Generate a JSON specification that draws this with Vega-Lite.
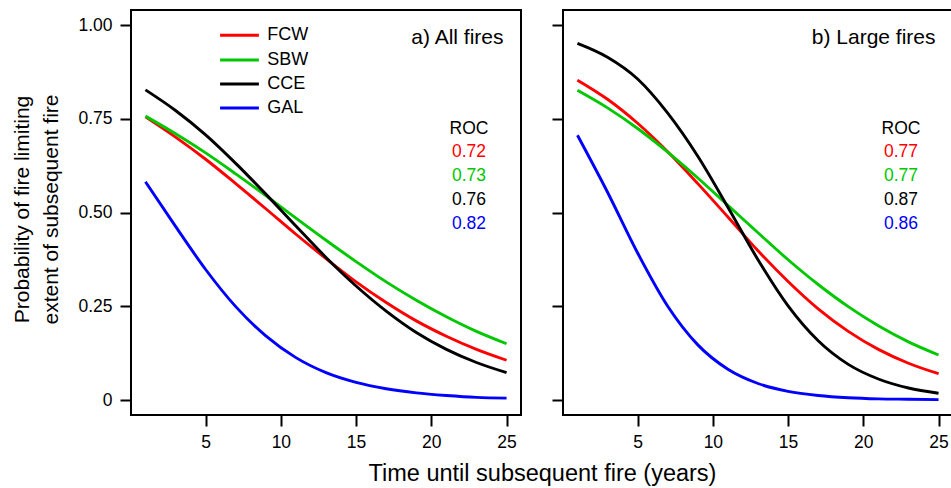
{
  "$schema": "https://vega.github.io/schema/vega-lite/v6.json",
  "padding": {"left": 10, "top": 9, "right": 0, "bottom": 0},
  "background": "white",
  "config": {
    "font": "Liberation Sans",
    "view": {"stroke": "black", "strokeWidth": 2},
    "axis": {
      "domain": false, "grid": false,
      "tickColor": "black", "tickWidth": 2, "tickSize": 11,
      "labelColor": "black", "labelFontSize": 17.5, "labelFont": "Liberation Sans",
      "titleFont": "Liberation Sans", "titleFontWeight": "normal", "titleColor": "black"
    },
    "text": {"font": "Liberation Sans"}
  },
  "datasets": {
    "curves": [
      {"p":"a","s":"FCW","x":1,"y":0.755},{"p":"a","s":"FCW","x":3,"y":0.701},{"p":"a","s":"FCW","x":5,"y":0.642},{"p":"a","s":"FCW","x":7,"y":0.577},{"p":"a","s":"FCW","x":9,"y":0.510},{"p":"a","s":"FCW","x":11,"y":0.442},{"p":"a","s":"FCW","x":13,"y":0.377},{"p":"a","s":"FCW","x":15,"y":0.315},{"p":"a","s":"FCW","x":17,"y":0.260},{"p":"a","s":"FCW","x":19,"y":0.211},{"p":"a","s":"FCW","x":21,"y":0.170},{"p":"a","s":"FCW","x":23,"y":0.135},{"p":"a","s":"FCW","x":25,"y":0.106},
      {"p":"a","s":"SBW","x":1,"y":0.757},{"p":"a","s":"SBW","x":3,"y":0.710},{"p":"a","s":"SBW","x":5,"y":0.659},{"p":"a","s":"SBW","x":7,"y":0.603},{"p":"a","s":"SBW","x":9,"y":0.545},{"p":"a","s":"SBW","x":11,"y":0.485},{"p":"a","s":"SBW","x":13,"y":0.426},{"p":"a","s":"SBW","x":15,"y":0.369},{"p":"a","s":"SBW","x":17,"y":0.315},{"p":"a","s":"SBW","x":19,"y":0.266},{"p":"a","s":"SBW","x":21,"y":0.222},{"p":"a","s":"SBW","x":23,"y":0.183},{"p":"a","s":"SBW","x":25,"y":0.150},
      {"p":"a","s":"CCE","x":1,"y":0.827},{"p":"a","s":"CCE","x":3,"y":0.772},{"p":"a","s":"CCE","x":5,"y":0.707},{"p":"a","s":"CCE","x":7,"y":0.631},{"p":"a","s":"CCE","x":9,"y":0.549},{"p":"a","s":"CCE","x":11,"y":0.464},{"p":"a","s":"CCE","x":13,"y":0.380},{"p":"a","s":"CCE","x":15,"y":0.304},{"p":"a","s":"CCE","x":17,"y":0.237},{"p":"a","s":"CCE","x":19,"y":0.180},{"p":"a","s":"CCE","x":21,"y":0.135},{"p":"a","s":"CCE","x":23,"y":0.100},{"p":"a","s":"CCE","x":25,"y":0.073},
      {"p":"a","s":"GAL","x":1,"y":0.582},{"p":"a","s":"GAL","x":3,"y":0.463},{"p":"a","s":"GAL","x":5,"y":0.348},{"p":"a","s":"GAL","x":7,"y":0.249},{"p":"a","s":"GAL","x":9,"y":0.171},{"p":"a","s":"GAL","x":11,"y":0.113},{"p":"a","s":"GAL","x":13,"y":0.073},{"p":"a","s":"GAL","x":15,"y":0.047},{"p":"a","s":"GAL","x":17,"y":0.030},{"p":"a","s":"GAL","x":19,"y":0.019},{"p":"a","s":"GAL","x":21,"y":0.012},{"p":"a","s":"GAL","x":23,"y":0.007},{"p":"a","s":"GAL","x":25,"y":0.005},
      {"p":"b","s":"FCW","x":1,"y":0.853},{"p":"b","s":"FCW","x":3,"y":0.802},{"p":"b","s":"FCW","x":5,"y":0.738},{"p":"b","s":"FCW","x":7,"y":0.662},{"p":"b","s":"FCW","x":9,"y":0.577},{"p":"b","s":"FCW","x":11,"y":0.488},{"p":"b","s":"FCW","x":13,"y":0.398},{"p":"b","s":"FCW","x":15,"y":0.316},{"p":"b","s":"FCW","x":17,"y":0.243},{"p":"b","s":"FCW","x":19,"y":0.183},{"p":"b","s":"FCW","x":21,"y":0.135},{"p":"b","s":"FCW","x":23,"y":0.098},{"p":"b","s":"FCW","x":25,"y":0.070},
      {"p":"b","s":"SBW","x":1,"y":0.826},{"p":"b","s":"SBW","x":3,"y":0.779},{"p":"b","s":"SBW","x":5,"y":0.724},{"p":"b","s":"SBW","x":7,"y":0.661},{"p":"b","s":"SBW","x":9,"y":0.592},{"p":"b","s":"SBW","x":11,"y":0.519},{"p":"b","s":"SBW","x":13,"y":0.446},{"p":"b","s":"SBW","x":15,"y":0.374},{"p":"b","s":"SBW","x":17,"y":0.308},{"p":"b","s":"SBW","x":19,"y":0.249},{"p":"b","s":"SBW","x":21,"y":0.198},{"p":"b","s":"SBW","x":23,"y":0.155},{"p":"b","s":"SBW","x":25,"y":0.120},
      {"p":"b","s":"CCE","x":1,"y":0.951},{"p":"b","s":"CCE","x":3,"y":0.914},{"p":"b","s":"CCE","x":5,"y":0.856},{"p":"b","s":"CCE","x":7,"y":0.765},{"p":"b","s":"CCE","x":9,"y":0.650},{"p":"b","s":"CCE","x":11,"y":0.514},{"p":"b","s":"CCE","x":13,"y":0.374},{"p":"b","s":"CCE","x":15,"y":0.251},{"p":"b","s":"CCE","x":17,"y":0.158},{"p":"b","s":"CCE","x":19,"y":0.095},{"p":"b","s":"CCE","x":21,"y":0.056},{"p":"b","s":"CCE","x":23,"y":0.032},{"p":"b","s":"CCE","x":25,"y":0.018},
      {"p":"b","s":"GAL","x":1,"y":0.706},{"p":"b","s":"GAL","x":3,"y":0.554},{"p":"b","s":"GAL","x":5,"y":0.392},{"p":"b","s":"GAL","x":7,"y":0.250},{"p":"b","s":"GAL","x":9,"y":0.147},{"p":"b","s":"GAL","x":11,"y":0.082},{"p":"b","s":"GAL","x":13,"y":0.044},{"p":"b","s":"GAL","x":15,"y":0.023},{"p":"b","s":"GAL","x":17,"y":0.012},{"p":"b","s":"GAL","x":19,"y":0.006},{"p":"b","s":"GAL","x":21,"y":0.003},{"p":"b","s":"GAL","x":23,"y":0.002},{"p":"b","s":"GAL","x":25,"y":0.001}
    ],
    "roc": [
      {"p":"a","s":"FCW","t":"0.72","y":0.648},{"p":"a","s":"SBW","t":"0.73","y":0.584},{"p":"a","s":"CCE","t":"0.76","y":0.520},{"p":"a","s":"GAL","t":"0.82","y":0.456},
      {"p":"b","s":"FCW","t":"0.77","y":0.648},{"p":"b","s":"SBW","t":"0.77","y":0.584},{"p":"b","s":"CCE","t":"0.87","y":0.520},{"p":"b","s":"GAL","t":"0.86","y":0.456}
    ],
    "leg": [
      {"s":"FCW","y":0.973},{"s":"SBW","y":0.907},{"s":"CCE","y":0.843},{"s":"GAL","y":0.779}
    ],
    "panels": [
      {"p":"a","title":"a) All fires"},{"p":"b","title":"b) Large fires"}
    ]
  },
  "bounds": "flush",
  "spacing": 42,
  "hconcat": [
    {
      "width": 390, "height": 405,
      "layer": [
        {
          "data": {"name": "curves"},
          "transform": [{"filter": "datum.p === 'a'"}],
          "mark": {"type": "line", "strokeWidth": 2.9, "interpolate": "monotone"},
          "encoding": {
            "x": {"field": "x", "type": "quantitative",
                  "scale": {"domain": [0.04, 25.96], "nice": false, "zero": false},
                  "axis": {"values": [5, 10, 15, 20, 25], "labelPadding": 7,
                           "title": "Time until subsequent fire (years)", "titleFontSize": 23.5,
                           "titleX": 411, "titleY": 65, "titleAlign": "center", "titleBaseline": "alphabetic"}},
            "y": {"field": "y", "type": "quantitative",
                  "scale": {"domain": [-0.04, 1.04], "nice": false, "zero": false},
                  "axis": {"values": [0, 0.25, 0.5, 0.75, 1], "labelPadding": 8,
                           "labelExpr": "datum.value === 0 ? '0' : format(datum.value, '.2f')",
                           "title": ["Probability of fire limiting", "extent of subsequent fire"],
                           "titleFontSize": 21, "titleAngle": -90, "titleX": -103, "titleY": 199,
                           "titleAlign": "center", "titleBaseline": "alphabetic", "titleLineHeight": 29}},
            "color": {"field": "s", "type": "nominal",
                      "scale": {"domain": ["FCW", "SBW", "CCE", "GAL"], "range": ["#FF0000", "#00C800", "#000000", "#0000FF"]},
                      "legend": null}
          }
        },
        {
          "data": {"name": "leg"},
          "mark": {"type": "rule", "strokeWidth": 3},
          "encoding": {
            "x": {"datum": 5.96}, "x2": {"datum": 8.54},
            "y": {"field": "y", "type": "quantitative"},
            "color": {"field": "s", "type": "nominal"}
          }
        },
        {
          "data": {"name": "leg"},
          "mark": {"type": "text", "align": "left", "baseline": "middle", "fontSize": 18, "color": "black"},
          "encoding": {
            "x": {"datum": 9.1},
            "y": {"field": "y", "type": "quantitative"},
            "text": {"field": "s"}
          }
        },
        {
          "data": {"name": "panels"},
          "transform": [{"filter": "datum.p === 'a'"}],
          "mark": {"type": "text", "align": "right", "baseline": "alphabetic", "fontSize": 21, "color": "black"},
          "encoding": {"x": {"datum": 24.8}, "y": {"datum": 0.949}, "text": {"field": "title"}}
        },
        {
          "data": {"name": "panels"},
          "transform": [{"filter": "datum.p === 'a'"}],
          "mark": {"type": "text", "align": "center", "baseline": "alphabetic", "fontSize": 17.5, "color": "black"},
          "encoding": {"x": {"datum": 22.5}, "y": {"datum": 0.709}, "text": {"value": "ROC"}}
        },
        {
          "data": {"name": "roc"},
          "transform": [{"filter": "datum.p === 'a'"}],
          "mark": {"type": "text", "align": "center", "baseline": "alphabetic", "fontSize": 17.5},
          "encoding": {"x": {"datum": 22.5}, "y": {"field": "y", "type": "quantitative"}, "text": {"field": "t"}, "color": {"field": "s", "type": "nominal"}}
        },
        {
          "mark": {"type": "rule", "strokeDash": [8, 5], "strokeWidth": 2, "color": "black"},
          "encoding": {"y": {"datum": 0.3}}
        }
      ]
    },
    {
      "width": 390, "height": 405,
      "layer": [
        {
          "data": {"name": "curves"},
          "transform": [{"filter": "datum.p === 'b'"}],
          "mark": {"type": "line", "strokeWidth": 2.9, "interpolate": "monotone"},
          "encoding": {
            "x": {"field": "x", "type": "quantitative",
                  "scale": {"domain": [0.04, 25.96], "nice": false, "zero": false},
                  "axis": {"values": [5, 10, 15, 20, 25], "labelPadding": 7, "title": null}},
            "y": {"field": "y", "type": "quantitative",
                  "scale": {"domain": [-0.04, 1.04], "nice": false, "zero": false},
                  "axis": {"values": [0, 0.25, 0.5, 0.75, 1], "labels": false, "title": null}},
            "color": {"field": "s", "type": "nominal",
                      "scale": {"domain": ["FCW", "SBW", "CCE", "GAL"], "range": ["#FF0000", "#00C800", "#000000", "#0000FF"]},
                      "legend": null}
          }
        },
        {
          "data": {"name": "panels"},
          "transform": [{"filter": "datum.p === 'b'"}],
          "mark": {"type": "text", "align": "right", "baseline": "alphabetic", "fontSize": 21, "color": "black"},
          "encoding": {"x": {"datum": 24.8}, "y": {"datum": 0.949}, "text": {"field": "title"}}
        },
        {
          "data": {"name": "panels"},
          "transform": [{"filter": "datum.p === 'b'"}],
          "mark": {"type": "text", "align": "center", "baseline": "alphabetic", "fontSize": 17.5, "color": "black"},
          "encoding": {"x": {"datum": 22.5}, "y": {"datum": 0.709}, "text": {"value": "ROC"}}
        },
        {
          "data": {"name": "roc"},
          "transform": [{"filter": "datum.p === 'b'"}],
          "mark": {"type": "text", "align": "center", "baseline": "alphabetic", "fontSize": 17.5},
          "encoding": {"x": {"datum": 22.5}, "y": {"field": "y", "type": "quantitative"}, "text": {"field": "t"}, "color": {"field": "s", "type": "nominal"}}
        },
        {
          "mark": {"type": "rule", "strokeDash": [8, 5], "strokeWidth": 2, "color": "black"},
          "encoding": {"y": {"datum": 0.3}}
        }
      ]
    }
  ]
}
